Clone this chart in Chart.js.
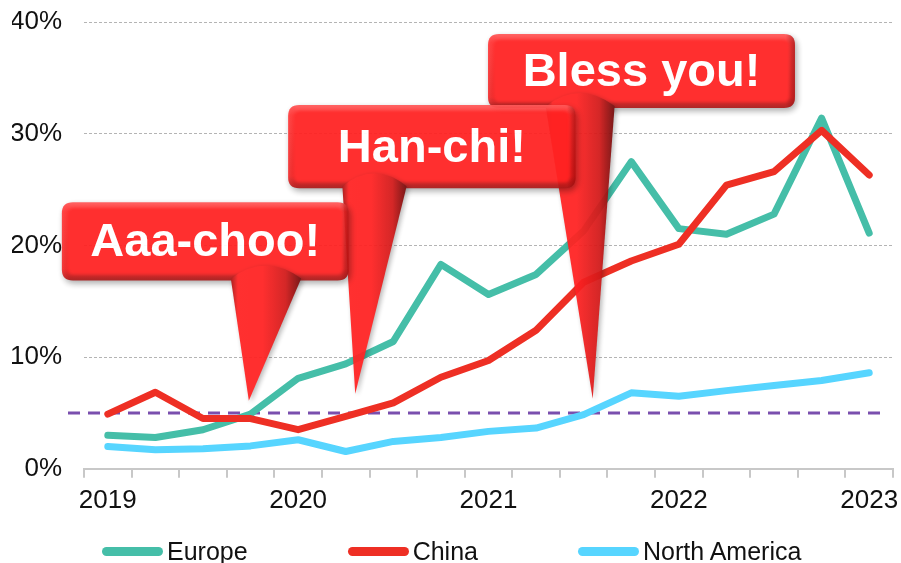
<!DOCTYPE html>
<html>
<head>
<meta charset="utf-8">
<script src="https://cdn.jsdelivr.net/npm/chart.js@4.4.1/dist/chart.umd.min.js"></script>
<style>
  html, body { margin: 0; padding: 0; background: #fff; overflow: hidden; }
  #wrap { position: relative; width: 901px; height: 563px; }
  #legend {
    position: absolute; left: 102px; top: 537px;
    display: flex; gap: 100px; align-items: center;
    font: 25px "Liberation Sans", Arial, sans-serif; color: #111;
  }
  #legend .item { display: flex; align-items: center; gap: 4px; }
  #legend .swatch { width: 61px; height: 9px; border-radius: 5px; }
</style>
</head>
<body>
<div id="wrap">
  <canvas id="grafico" width="901" height="563"></canvas>
  <div id="legend"></div>
</div>
<script>
const quarters = [
  '2019 Q1', '2019 Q2', '2019 Q3', '2019 Q4',
  '2020 Q1', '2020 Q2', '2020 Q3', '2020 Q4',
  '2021 Q1', '2021 Q2', '2021 Q3', '2021 Q4',
  '2022 Q1', '2022 Q2', '2022 Q3', '2022 Q4',
  '2023 Q1'
];
const europe = [3.0, 2.8, 3.5, 4.9, 8.1, 9.4, 11.4, 18.3, 15.6, 17.4, 21.3, 27.5, 21.5, 21.0, 22.8, 31.4, 21.1];
const china = [4.9, 6.85, 4.5, 4.5, 3.5, 4.7, 5.9, 8.2, 9.7, 12.4, 16.7, 18.6, 20.1, 25.4, 26.6, 30.3, 26.3];
const northAmerica = [2.0, 1.7, 1.8, 2.05, 2.6, 1.55, 2.45, 2.8, 3.35, 3.65, 4.85, 6.8, 6.5, 7.0, 7.45, 7.9, 8.6];
const yTicks = [0, 10, 20, 30, 40];
const threshold = 5;

// speech bubbles, anchored in scale units (category index, percent)
const callouts = [
  { text: 'Aaa-choo!', box: [-0.965, 5.06, 23.86, 16.86], tail: [2.585, 4.064], tip: [2.964, 6.1] },
  { text: 'Han-chi!', box: [3.79, 9.83, 32.56, 25.11], tail: [4.93, 6.28], tip: [5.2, 6.73] },
  { text: 'Bless you!', box: [7.99, 14.44, 38.92, 32.29], tail: [9.2, 10.65], tip: [10.19, 6.28] }
];

const FONT = '"Liberation Sans", Arial, sans-serif';

function roundRect(ctx, x, y, w, h, r) {
  ctx.beginPath();
  ctx.moveTo(x + r, y);
  ctx.lineTo(x + w - r, y);
  ctx.quadraticCurveTo(x + w, y, x + w, y + r);
  ctx.lineTo(x + w, y + h - r);
  ctx.quadraticCurveTo(x + w, y + h, x + w - r, y + h);
  ctx.lineTo(x + r, y + h);
  ctx.quadraticCurveTo(x, y + h, x, y + h - r);
  ctx.lineTo(x, y + r);
  ctx.quadraticCurveTo(x, y, x + r, y);
  ctx.closePath();
}

function drawBubble(chart, c) {
  const xs = chart.scales.x, ys = chart.scales.y;
  const left = xs.getPixelForValue(c.box[0]);
  const right = xs.getPixelForValue(c.box[1]);
  const top = ys.getPixelForValue(c.box[2]);
  const bottom = ys.getPixelForValue(c.box[3]);
  const t1 = xs.getPixelForValue(c.tail[0]);
  const t2 = xs.getPixelForValue(c.tail[1]);
  const tipX = xs.getPixelForValue(c.tip[0]);
  const tipY = ys.getPixelForValue(c.tip[1]);
  const w = right - left, h = bottom - top;

  const off = document.createElement('canvas');
  off.width = chart.width;
  off.height = chart.height;
  const g = off.getContext('2d');

  // box rim with drop shadow
  g.save();
  g.shadowColor = 'rgba(0,0,0,0.35)';
  g.shadowBlur = 6;
  g.shadowOffsetX = 2;
  g.shadowOffsetY = 3;
  const rim = g.createLinearGradient(0, top, 0, bottom);
  rim.addColorStop(0, '#ff5a5a');
  rim.addColorStop(0.12, '#ff3030');
  rim.addColorStop(0.85, '#ee2020');
  rim.addColorStop(1, '#a81818');
  roundRect(g, left, top, w, h, 11);
  g.fillStyle = rim;
  g.fill();
  g.restore();

  // darker right edge of the bevel
  const side = g.createLinearGradient(left, 0, right, 0);
  side.addColorStop(0, 'rgba(255,120,120,0.2)');
  side.addColorStop(0.03, 'rgba(255,0,0,0)');
  side.addColorStop(0.97, 'rgba(120,0,0,0)');
  side.addColorStop(1, 'rgba(110,0,0,0.5)');
  roundRect(g, left, top, w, h, 11);
  g.fillStyle = side;
  g.fill();

  // flat face
  g.save();
  g.filter = 'blur(1.5px)';
  roundRect(g, left + 6, top + 6, w - 12, h - 12, 6);
  g.fillStyle = '#ff2222';
  g.fill();
  g.restore();

  // tail, shaded like a cone
  g.save();
  g.shadowColor = 'rgba(0,0,0,0.3)';
  g.shadowBlur = 5;
  g.shadowOffsetX = 2;
  g.shadowOffsetY = 2;
  const cone = g.createLinearGradient(t1, 0, t2, 0);
  cone.addColorStop(0, '#a81414');
  cone.addColorStop(0.1, '#ff2424');
  cone.addColorStop(0.45, '#ff2222');
  cone.addColorStop(0.78, '#d21a1a');
  cone.addColorStop(1, '#700a0a');
  g.beginPath();
  g.moveTo(t1, bottom - 2);
  g.quadraticCurveTo((t1 + t2) / 2, bottom - 28, t2, bottom - 2);
  g.lineTo(tipX, tipY);
  g.closePath();
  g.fillStyle = cone;
  g.fill();
  g.restore();

  // label
  g.fillStyle = '#ffffff';
  g.font = 'bold 47px ' + FONT;
  g.textAlign = 'center';
  g.textBaseline = 'middle';
  g.fillText(c.text, (left + right) / 2, (top + bottom) / 2 + 2);

  const ctx = chart.ctx;
  ctx.save();
  ctx.globalAlpha = 0.94;
  ctx.drawImage(off, 0, 0, chart.width, chart.height);
  ctx.restore();
}

const extras = {
  id: 'extras',
  beforeDatasetsDraw(chart) {
    const { ctx, chartArea, scales: { y } } = chart;
    const py = y.getPixelForValue(threshold);
    ctx.save();
    ctx.strokeStyle = '#7a4fae';
    ctx.lineWidth = 3;
    ctx.setLineDash([12, 8]);
    ctx.beginPath();
    ctx.moveTo(chartArea.left - 16, py);
    ctx.lineTo(chartArea.right - 11, py);
    ctx.stroke();
    ctx.restore();
  },
  afterDatasetsDraw(chart) {
    // back to front so the first bubble ends up on top
    for (let i = callouts.length - 1; i >= 0; i--) drawBubble(chart, callouts[i]);
  }
};

const series = [
  { label: 'Europe', data: europe, borderColor: '#45bea8', order: 1 },
  { label: 'China', data: china, borderColor: '#ee2f24', order: 0 },
  { label: 'North America', data: northAmerica, borderColor: '#57d5ff', order: 2 }
];

const chart = new Chart(document.getElementById('grafico'), {
  type: 'line',
  data: {
    labels: quarters,
    datasets: series.map(s => ({
      ...s,
      backgroundColor: s.borderColor,
      borderWidth: 7,
      borderCapStyle: 'round',
      borderJoinStyle: 'round',
      pointRadius: 0,
      tension: 0,
      fill: false
    }))
  },
  options: {
    responsive: false,
    animation: false,
    events: [],
    layout: { padding: { top: 22, left: 12, right: 8, bottom: 40 } },
    plugins: {
      legend: { display: false },
      tooltip: { enabled: false }
    },
    scales: {
      x: {
        offset: true,
        afterFit: scale => {
          scale.paddingLeft = 0;
          scale.paddingRight = 0;
        },
        grid: {
          offset: true,
          drawOnChartArea: false,
          drawTicks: true,
          tickLength: 9,
          color: '#c8c8c8',
          lineWidth: 2
        },
        border: { color: '#c8c8c8', width: 2 },
        ticks: {
          autoSkip: false,
          maxRotation: 0,
          padding: 7,
          color: '#111',
          font: { family: FONT, size: 26 },
          callback: (v, i) => quarters[i].endsWith('Q1') ? quarters[i].slice(0, 4) : ''
        }
      },
      y: {
        min: 0,
        max: 40,
        afterBuildTicks: scale => { scale.ticks = yTicks.map(v => ({ value: v })); },
        afterFit: scale => {
          scale.width = 72;
          scale.paddingTop = 0;
          scale.paddingBottom = 0;
        },
        border: { display: false, dash: [3, 2] },
        grid: {
          drawTicks: false,
          color: ctx => ctx.tick.value === 0 ? 'rgba(0,0,0,0)' : '#b4b4b4',
          lineWidth: 1
        },
        ticks: {
          padding: 22,
          color: '#111',
          font: { family: FONT, size: 26 },
          callback: v => v + '%'
        }
      }
    }
  },
  plugins: [extras]
});

// legend built from the datasets
const legend = document.getElementById('legend');
series.forEach(s => {
  const item = document.createElement('div');
  item.className = 'item';
  item.innerHTML = `<span class="swatch" style="background:${s.borderColor}"></span><span>${s.label}</span>`;
  legend.appendChild(item);
});
</script>
</body>
</html>
